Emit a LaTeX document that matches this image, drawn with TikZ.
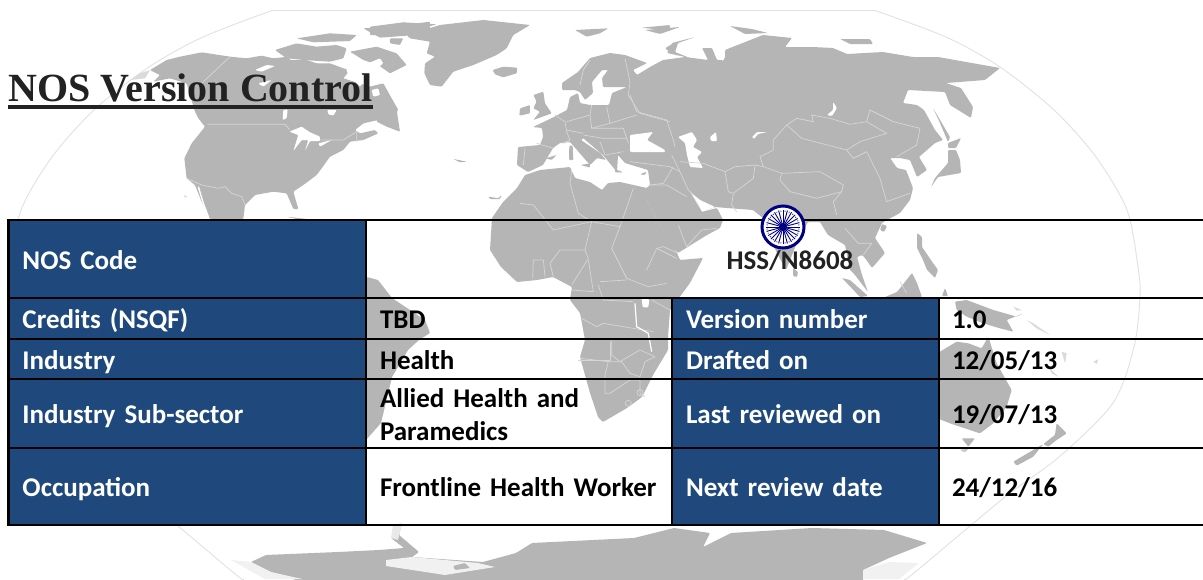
\documentclass[tikz,border=0pt]{standalone}
\usepackage{fontspec}
\setmainfont{Carlito}
\newfontfamily\titlefont{Liberation Serif}
\definecolor{cellblue}{HTML}{1F497D}
\definecolor{land}{HTML}{B5B5B5}
\definecolor{bline}{HTML}{D6D6D6}
\definecolor{shelf}{HTML}{F1F1F1}
\definecolor{globeline}{HTML}{E2E2E2}
\definecolor{darktext}{HTML}{222222}
\definecolor{chakra}{HTML}{000080}
\tikzset{
  lnd/.style={fill=land,draw=none,rounded corners=1pt},
  wat/.style={fill=white,draw=none,rounded corners=1pt},
  bd/.style={draw=bline,line width=0.7pt,fill=none,line join=round},
  zm/.style 2 args={x=0.33333pt,y=-0.33333pt,shift={(#1*3,#2*3)}},
  tcell/.style={draw=black,line width=2.6pt,anchor=north west,inner xsep=14pt,inner ysep=0pt,outer sep=0pt,align=left,
     font=\fontsize{27}{33}\selectfont\bfseries,
     execute at begin node={\rule[-6pt]{0pt}{32pt}},
     execute at end node={\rule[-6pt]{0pt}{32pt}}},
  bcell/.style={tcell,fill=cellblue,text=white},
  wcell/.style={tcell,text=black},
}
\begin{document}
\begin{tikzpicture}[x=1pt,y=-1pt]
\useasboundingbox (0,0) rectangle (1203,579);
\fill[white] (0,0) rectangle (1203,579);
% globe outline
\draw[globeline,line width=0.9pt] (272,10.5) -- (875,10.5);
\draw[globeline,line width=0.9pt] plot[smooth] coordinates {(875,10.5)(946,37)(1000,67)(1054,110)(1096,157)(1127,210)(1138,267)(1140,297)(1134,347)(1113,403)(1059,457)(1005,497)(914,573)(905,579)};
\draw[globeline,line width=0.9pt] plot[smooth] coordinates {(272,10.5)(203,37)(149,67)(94,110)(52,157)(21,210)(10,267)(8,297)(14,347)(35,403)(89,457)(143,497)(234,573)(243,579)};
% North America
\begin{scope}[zm={130}{15}]
\fill[lnd] (60,165)--(110,135)--(150,125)--(215,112)--(300,125)--(350,130)--(395,122)--(430,130)--(475,125)--(480,135)--(530,135)--(560,145)--(600,145)--(640,160)--(660,165)--(640,190)--(720,215)--(760,205)--(785,250)--(805,285)--(785,310)--(745,315)--(700,325)--(675,345)--(690,355)--(735,345)--(745,355)--(700,375)--(660,380)--(640,405)--(600,425)--(575,460)--(560,480)--(520,510)--(490,530)--(505,582)--(490,582)--(470,535)--(430,530)--(375,540)--(345,570)--(340,612)--(240,612)--(215,560)--(195,510)--(170,490)--(163,430)--(185,385)--(225,335)--(205,310)--(195,290)--(180,240)--(170,205)--(120,190)--(70,200)--(90,180)--cycle;
\fill[lnd] (435,105)--(500,85)--(560,95)--(620,90)--(650,100)--(640,130)--(600,140)--(520,135)--(470,130)--cycle;
\fill[lnd] (660,110)--(740,95)--(800,115)--(830,150)--(780,175)--(745,150)--(700,135)--cycle;
\fill[lnd] (500,70)--(600,55)--(680,60)--(660,78)--(550,82)--cycle;
\fill[lnd] (700,40)--(790,35)--(900,20)--(900,45)--(830,62)--(750,68)--cycle;
\fill[lnd] (780,70)--(820,70)--(810,90)--(780,85)--cycle;
\fill[lnd] (750,210)--(800,285)--(810,350)--(770,335)--(740,320)--cycle;
\fill[lnd] (470,605)--(530,612)--(500,612)--cycle;
\fill[land!50!white] (0,195)--(30,175)--(60,165)--(45,190)--cycle;
\fill[land!50!white] (162,540)--(172,545)--(165,548)--cycle;
% lakes & gulfs
\fill[wat] (375,165)--(410,150)--(435,153)--(395,170)--cycle;
\fill[wat] (385,205)--(425,195)--(400,215)--cycle;
\fill[wat] (460,285)--(473,283)--(470,310)--(458,315)--cycle;
\fill[wat] (592,285)--(620,285)--(610,302)--(595,298)--cycle;
\fill[wat] (650,135)--(690,155)--(750,130)--(760,145)--(715,180)--(690,215)--(650,170)--cycle;
\fill[wat] (725,225)--(745,220)--(750,240)--(730,245)--cycle;
\fill[wat] (478,350)--(515,335)--(540,352)--(570,365)--(570,378)--(540,378)--(525,408)--(535,375)--(515,375)--(490,408)--(505,360)--cycle;
\fill[wat] (565,385)--(605,375)--(570,395)--cycle;
\draw[white,line width=1.4pt] (205,515)--(220,565)--(235,605);
\draw[bd] (232,328)--(465,328)--(480,345);
\draw[bd] (300,125)--(215,205);
\draw[bd] (170,490)--(215,510)--(265,520)--(285,515)--(305,535)--(335,545)--(345,570);
\draw[bd] (570,375)--(640,375)--(680,350)--(680,380);
\end{scope}
% Eurasia
\fill[lnd] (517,165)--(518,147)--(540,145)--(543,137)--(542,128)--(533,127)--(552,118)--(567,110)--(570,97)--(578,93)--(580,103)--(590,105)--(603,105)--(609,105)--(612,93)--(627,87)--(603,87)--(602,78)--(608,70)--(602,70)--(592,82)--(593,93)--(585,100)--(580,92)--(575,90)--(562,90)--(562,83)--(578,72)--(590,58)--(610,53)--(625,55)--(647,63)--(633,70)--(637,75)--(650,67)--(663,60)--(685,57)--(708,60)--(702,48)--(712,48)--(717,60)--(723,60)--(718,67)--(725,58)--(725,50)--(730,48)--(763,35)--(792,38)--(785,47)--(813,47)--(833,48)--(847,54)--(883,52)--(913,57)--(938,57)--(1000,68)--(985,80)--(946,83)--(961,88)--(973,107)--(971,118)--(950,105)--(945,92)--(908,90)--(903,103)--(917,105)--(924,110)--(935,130)--(943,140)--(935,143)--(919,157)--(927,170)--(917,177)--(910,160)--(900,158)--(890,158)--(897,168)--(906,170)--(913,188)--(910,200)--(900,213)--(887,220)--(882,223)--(875,238)--(885,253)--(872,268)--(865,258)--(862,255)--(857,257)--(862,275)--(868,292)--(855,275)--(850,270)--(845,245)--(828,235)--(820,222)--(808,222)--(800,235)--(792,255)--(786,270)--(778,255)--(768,235)--(763,218)--(753,210)--(727,208)--(715,207)--(702,212)--(697,202)--(690,192)--(702,212)--(717,208)--(723,220)--(720,228)--(707,235)--(678,253)--(673,248)--(660,225)--(647,200)--(642,190)--(648,187)--(650,185)--(648,170)--(625,163)--(618,155)--(617,172)--(603,155)--(583,138)--(581,140)--(600,153)--(606,160)--(597,158)--(590,165)--(577,150)--(570,142)--(560,143)--(553,148)--(543,165)--(528,172)--cycle;
\fill[wat] (630,135)--(653,132)--(647,140)--(665,150)--(665,152)--(630,152)--cycle;
\fill[wat] (678,137)--(692,132)--(697,140)--(693,147)--(702,152)--(697,157)--(703,168)--(690,167)--(687,155)--(685,143)--cycle;
\fill[wat] (710,137)--(716,132)--(717,141)--(711,141)--cycle;
\fill[wat] (752,137)--(757,132)--(767,132)--(758,134)--(754,139)--cycle;
\fill[wat] (833,102)--(837,108)--(832,116)--(827,115)--(833,110)--cycle;
\fill[wat] (690,192)--(697,202)--(702,212)--(715,207)--(700,200)--cycle;
% Islands of Eurasia
\fill[lnd] (667,53)--(672,43)--(695,37)--(678,43)--(675,52)--(690,58)--cycle;
\fill[lnd] (645,30)--(680,27)--(660,34)--cycle;
\fill[lnd] (730,26)--(752,29)--(768,33)--(745,34)--cycle;
\fill[lnd] (840,39)--(870,39)--(873,44)--(850,44)--cycle;
\fill[lnd] (933,108)--(950,137)--(948,142)--(940,123)--cycle;
\fill[lnd] (948,143)--(961,138)--(956,148)--(948,148)--cycle;
\fill[lnd] (948,150)--(956,150)--(960,160)--(961,173)--(938,177)--(931,187)--(935,178)--(948,163)--cycle;
% Britain, Iceland, Greenland etc.
\begin{scope}[zm={370}{15}]
\fill[lnd] (110,60)--(210,30)--(340,15)--(480,30)--(430,60)--(410,100)--(380,120)--(310,150)--(250,170)--(215,215)--(180,210)--(163,175)--(165,145)--(195,125)--(170,115)--(180,80)--(120,70)--cycle;
\fill[lnd] (0,35)--(100,22)--(200,28)--(120,50)--(30,60)--(0,60)--cycle;
\fill[lnd] (368,165)--(400,155)--(442,158)--(440,175)--(400,187)--(375,178)--cycle;
\fill[lnd] (615,45)--(715,40)--(690,55)--(650,65)--cycle;
\fill[lnd] (815,38)--(900,30)--(900,42)--(850,42)--cycle;
\fill[lnd] (885,100)--(905,88)--(905,115)--cycle;
\fill[lnd] (490,240)--(520,230)--(525,265)--(545,295)--(490,315)--(510,290)--(490,280)--(500,260)--cycle;
\fill[lnd] (450,280)--(480,270)--(480,295)--(448,302)--cycle;
\fill[lnd] (598,392)--(608,392)--(610,435)--(597,435)--cycle;
\fill[lnd] (527,430)--(560,420)--(545,435)--cycle;
\fill[lnd] (632,450)--(660,445)--(660,458)--cycle;
\fill[lnd] (735,462)--(760,472)--(735,472)--cycle;
\fill[lnd] (810,478)--(830,470)--(825,480)--cycle;
\fill[lnd] (250,432)--(290,440)--(270,442)--cycle;
\fill[lnd] (355,545)--(385,550)--(395,540)--(390,552)--(360,552)--cycle;
\draw[bd] (630,210)--(640,165)--(660,135);
\draw[bd] (765,130)--(780,200)--(775,240)--(800,280)--(810,295)--(900,320);
\draw[bd] (555,300)--(585,320)--(590,350)--(600,375)--(580,385);
\draw[bd] (500,385)--(550,400);
\draw[bd] (465,400)--(460,450);
\draw[bd] (590,320)--(660,300)--(665,340)--(720,325)--(710,275);
\draw[bd] (665,340)--(760,340)--(770,370);
\draw[bd] (720,325)--(800,300);
\draw[bd] (640,360)--(700,370)--(770,370)--(775,385);
\draw[bd] (690,380)--(705,420)--(760,410);
\draw[bd] (590,345)--(640,355);
\draw[bd] (660,300)--(665,270);
\end{scope}
\begin{scope}[zm={630}{15}]
\draw[bd] (0,240)--(20,290)--(110,315)--(130,375)--(135,395);
\draw[bd] (125,420)--(150,470)--(175,525)--(190,540);
\draw[bd] (120,455)--(150,470);
\draw[bd] (150,440)--(220,445)--(285,470)--(295,530)--(310,535)--(370,490)--(375,450)--(315,455)--(285,470);
\draw[bd] (375,450)--(400,455)--(455,475)--(570,470)--(640,510)--(635,530)--(560,550)--(480,530)--(450,495)--(455,475);
\draw[bd] (310,535)--(305,570)--(320,590);
\draw[bd] (400,455)--(390,425)--(430,405)--(430,375)--(470,330)--(500,310)--(550,320)--(545,300)--(600,310)--(660,328)--(710,320)--(720,285)--(790,320)--(870,340)--(860,390)--(800,425);
\draw[bd] (470,330)--(515,370)--(650,405)--(690,380)--(770,355)--(710,320);
\draw[bd] (650,405)--(670,430)--(710,410)--(750,490)--(770,560)--(840,535);
\draw[bd] (635,530)--(610,560)--(620,600);
\draw[bd] (0,440)--(120,455);
\draw[bd] (60,510)--(100,505)--(130,455);
\draw[bd] (60,510)--(110,510)--(170,545);
\end{scope}
% Africa
\fill[lnd] (525,175)--(540,170)--(570,167)--(575,178)--(590,182)--(602,190)--(608,183)--(620,182)--(647,188)--(647,200)--(660,225)--(677,253)--(680,260)--(703,258)--(690,283)--(670,310)--(668,337)--(668,350)--(653,375)--(642,397)--(627,408)--(603,422)--(598,417)--(590,393)--(580,357)--(585,340)--(580,313)--(570,300)--(572,287)--(553,277)--(537,280)--(517,282)--(501,267)--(490,250)--(492,218)--(503,202)--(517,188)--cycle;
\begin{scope}[zm={520}{170}]
\draw[bd] (155,0)--(150,40)--(175,130)--(215,155)--(300,170)--(340,55);
\draw[bd] (0,100)--(40,105)--(100,180)--(215,155)--(195,240)--(205,265)--(155,345);
\draw[bd] (300,170)--(275,235)--(320,325)--(385,350)--(440,340);
\draw[bd] (380,300)--(410,235)--(470,265);
\draw[bd] (90,280)--(120,240)--(195,240);
\draw[bd] (90,280)--(100,320);
\draw[bd] (38,325)--(40,270)--(70,270)--(75,320);
\draw[bd] (205,270)--(220,365)--(155,360);
\draw[bd] (240,335)--(320,330);
\draw[bd] (235,345)--(250,390)--(340,395);
\draw[bd] (185,445)--(230,470)--(250,460)--(340,475)--(400,485);
\draw[bd] (270,515)--(270,570)--(175,570);
\draw[bd] (395,390)--(450,420);
\draw[bd] (475,165)--(500,230)--(545,180)--(590,175);
\draw[bd] (475,250)--(430,230)--(410,235);
\draw[white,line width=1.2pt] (345,400)--(350,470)--(385,490)--(395,545);
\fill[wat] (365,385)--(388,388)--(385,412)--(368,412)--cycle;
\end{scope}
\begin{scope}[zm={530}{340}]
\draw[bd] (150,55)--(235,65)--(275,65)--(300,100)--(330,110)--(345,65)--(375,50)--(330,30)--(270,65);
\draw[bd] (235,65)--(225,105)--(225,160)--(240,160)--(300,120)--(330,120)--(330,160)--(345,170);
\draw[bd] (245,0)--(245,45)--(270,65);
\draw[bd] (295,190) circle[radius=3pt];
\draw[bd] (330,158) circle[radius=3pt];
\end{scope}
% South America
\fill[lnd] (340,297)--(367,277)--(378,280)--(392,298)--(425,320)--(430,333)--(419,340)--(408,350)--(392,377)--(381,423)--(366,440)--(340,440)--cycle;
% Asia-Pacific
\fill[lnd] (917,233)--(922,237)--(922,247)--(933,263)--(938,270)--(935,278)--(927,270)--(923,260)--(917,248)--cycle;
\fill[lnd] (885,297)--(897,292)--(912,273)--(917,283)--(922,297)--cycle;
\fill[lnd] (842,278)--(850,280)--(868,296)--(860,297)--cycle;
\fill[lnd] (882,224)--(887,226)--(884,232)--(880,230)--cycle;
\fill[lnd] (793,268)--(798,272)--(797,277)--(793,276)--cycle;
\fill[lnd] (942,296)--(945,288)--(948,296)--cycle;
\begin{scope}[zm={800}{220}]
\fill[lnd] (465,245)--(500,240)--(580,270)--(650,290)--(670,280)--(620,300)--(640,335)--(600,325)--(550,310)--(500,290)--(470,270)--cycle;
\fill[lnd] (420,395)--(470,365)--(505,370)--(545,385)--(565,350)--(590,430)--(635,510)--(620,560)--(580,610)--(540,640)--(480,620)--(450,610)--(400,590)--(400,395)--cycle;
\fill[lnd] (485,655)--(525,655)--(505,680)--cycle;
\fill[lnd] (770,610)--(800,640)--(770,660)--(745,680)--(730,672)--(765,645)--cycle;
\fill[lnd] (640,725)--(730,672)--(700,710)--(650,737)--cycle;
\fill[land!70!white] (480,690)--(510,682)--(495,697)--cycle;
\fill[land!50!white] (680,300)--(700,310)--(750,345)--(710,325)--cycle;
\fill[land!50!white] (640,260)--(665,270)--(650,272)--cycle;
\fill[land!50!white] (785,395)--(800,400)--(795,430)--cycle;
\fill[land!50!white] (880,425)--(895,418)--(890,432)--cycle;
\fill[land!50!white] (750,445)--(775,470)--(755,460)--cycle;
\draw[bd] (300,185)--(320,220);
\draw[bd] (135,25)--(175,70)--(215,70)--(190,105);
\end{scope}
% Antarctica
\fill[lnd] (251,562)--(266,555)--(338,552)--(379,550)--(404,548)--(391,538)--(396,533)--(402,523)--(399,535)--(419,552)--(412,557)--(483,562)--(516,553)--(532,543)--(634,538)--(674,528)--(710,533)--(703,547)--(731,533)--(812,528)--(884,530)--(927,543)--(889,558)--(863,570)--(863,582)--(302,582)--(271,572)--cycle;
\fill[shelf] (386,560)--(412,557)--(478,563)--(495,567)--(445,575)--(386,566)--cycle;
\fill[lnd] (453,566)--(465,563)--(470,568)--(455,570)--cycle;
\fill[shelf] (863,570)--(889,562)--(919,563)--(899,579)--(863,579)--cycle;
\fill[shelf] (231,560)--(251,562)--(271,572)--(302,579)--(265,579)--cycle;
\fill[land!30!white] (393,525)--(402,523)--(398,540)--(391,538)--cycle;
% Table
\node[bcell,minimum height=78pt,text width=329.5pt] (codeL) at (8.5,220) {NOS Code};
\node[wcell,minimum height=78pt,text width=820pt] (codeV) at (366,220) {};
\node[bcell,minimum height=41pt,text width=329.5pt] (credL) at (8.5,298) {Credits (NSQF)};
\node[wcell,minimum height=41pt,text width=278pt] (credV) at (366,298) {TBD};
\node[bcell,minimum height=41pt,text width=239pt] (verL) at (672,298) {Version number};
\node[wcell,minimum height=41pt,text width=243pt,inner xsep=13pt] (verV) at (939,298) {1.0};
\node[bcell,minimum height=40pt,text width=329.5pt] (indL) at (8.5,339) {Industry};
\node[wcell,minimum height=40pt,text width=278pt] (indV) at (366,339) {Health};
\node[bcell,minimum height=40pt,text width=239pt] (drL) at (672,339) {Drafted on};
\node[wcell,minimum height=40pt,text width=243pt,inner xsep=13pt] (drV) at (939,339) {12/05/13};
\node[bcell,minimum height=69pt,text width=329.5pt] (subL) at (8.5,379) {Industry Sub-sector};
\node[wcell,minimum height=69pt,text width=278pt] (subV) at (366,379) {Allied Health and\\Paramedics};
\node[bcell,minimum height=69pt,text width=239pt] (revL) at (672,379) {Last reviewed on};
\node[wcell,minimum height=69pt,text width=243pt,inner xsep=13pt] (revV) at (939,379) {19/07/13};
\node[bcell,minimum height=77pt,text width=329.5pt] (occL) at (8.5,448) {Occupation};
\node[wcell,minimum height=77pt,text width=278pt] (occV) at (366,448) {Frontline Health Worker};
\node[bcell,minimum height=77pt,text width=239pt] (nxtL) at (672,448) {Next review date};
\node[wcell,minimum height=77pt,text width=243pt,inner xsep=13pt] (nxtV) at (939,448) {24/12/16};
\node[text=darktext,font=\fontsize{27}{30}\selectfont\bfseries,inner sep=0pt] (code) at (790,261) {HSS/N8608};
% Chakra
\node[circle,draw=chakra,fill=white,line width=3pt,minimum size=42pt,inner sep=0pt] (wheel) at (783,227) {};
\foreach \a in {0,15,...,345}{
  \draw[chakra,line width=0.9pt] (wheel.center) -- ++(\a:17pt);
  \fill[chakra] ([shift={(\a+7.5:16pt)}]wheel.center) circle[radius=0.6pt];
}
\fill[chakra] (wheel.center) circle[radius=4pt];
% Title
\node[anchor=base west,inner sep=0pt,text=darktext,font=\titlefont\fontsize{40}{44}\selectfont\bfseries] (title) at (8,101) {NOS Version Control};
\fill[darktext] (8,105) rectangle (373,108.5);
\end{tikzpicture}
\end{document}
